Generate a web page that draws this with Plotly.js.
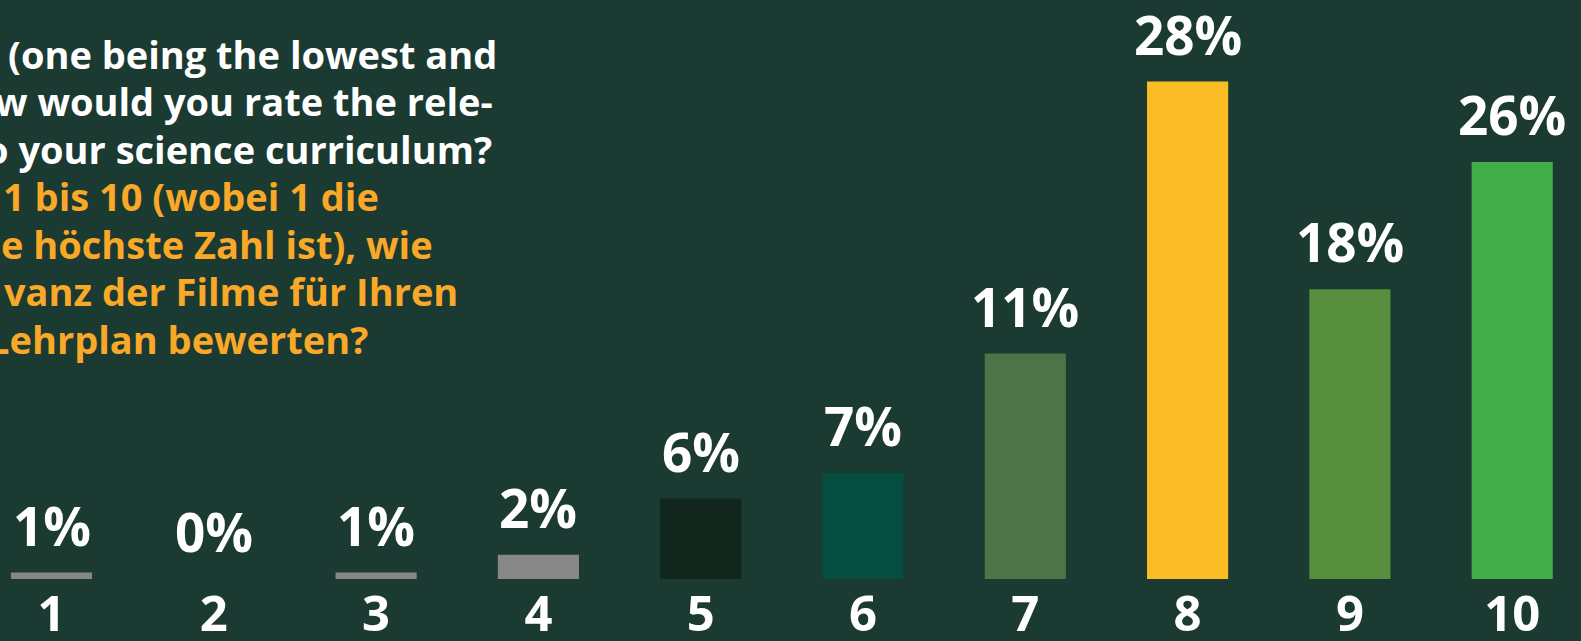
<!DOCTYPE html>
<html>
<head>
<meta charset="utf-8">
<script src="https://cdn.plot.ly/plotly-3.0.1.min.js"></script>
<style>
  html, body { margin: 0; padding: 0; background: #1a3a32; }
  #chart { width: 1581px; height: 641px; }
</style>
</head>
<body>
<div id="chart"></div>
<script>
// Rating categories (x axis)
const ratings = ['1', '2', '3', '4', '5', '6', '7', '8', '9', '10'];
// Bar lengths (percentage-point scale, infographic bars)
const barHeights = [0.4, 0, 0.4, 1.5, 5.0, 6.6, 14.0, 30.9, 18.0, 25.9];
// Printed share labels
const shareLabels = ['1%', '0%', '1%', '2%', '6%', '7%', '11%', '28%', '18%', '26%'];
// Bar colours
const barColors = ['#878787', '#878787', '#878787', '#878787', '#11261c',
                   '#054d3f', '#4d7347', '#fbbd26', '#588f3f', '#40ad4a'];

// Question text (left part is cut off in the original)
const questionEN = [
  '(one being the lowest and',
  'w would you rate the rele-',
  'o your science curriculum?'
];
const questionDE = [
  '1 bis 10 (wobei 1 die',
  'e höchste Zahl ist), wie',
  'vanz der Filme für Ihren',
  'Lehrplan bewerten?'
];
const lineEndsEN = [499, 495, 494];
const lineEndsDE = [381, 435, 460, 370];

const W = 1581, H = 641, BOTTOM = 62;
const plotH = H - BOTTOM;
const pxPerUnit = 16.1;
const FONT = 'Open Sans, Noto Sans, sans-serif';

const annotations = [];
ratings.forEach((r, i) => {
  annotations.push({
    x: i, y: barHeights[i], xref: 'x', yref: 'y',
    text: shareLabels[i], showarrow: false,
    xanchor: 'center', yanchor: 'bottom', yshift: 9,
    font: { family: FONT, size: 53, color: '#ffffff', weight: 700 }
  });
});

function addLines(lines, ends, color, firstBaseline) {
  lines.forEach((t, k) => {
    const baseline = firstBaseline + k * 47.5;
    const centerY = baseline - 15;
    annotations.push({
      x: ends[k] / W, y: (plotH - centerY) / plotH, xref: 'paper', yref: 'paper',
      text: t, showarrow: false, xanchor: 'right', yanchor: 'middle',
      font: { family: FONT, size: 38, color: color, weight: 700 }
    });
  });
}
addLines(questionEN, lineEndsEN, '#ffffff', 68.6);
addLines(questionDE, lineEndsDE, '#f9a828', 68.6 + 3 * 47.5);

const trace = {
  type: 'bar',
  x: ratings,
  y: barHeights,
  width: 0.5,
  marker: { color: barColors, line: { width: 0 } },
  hoverinfo: 'skip'
};

const firstCenterPx = 51.5, stepPx = 162.3;
const x0 = -firstCenterPx / stepPx;
const x1 = x0 + W / stepPx;

const layout = {
  width: W, height: H,
  margin: { l: 0, r: 0, t: 0, b: BOTTOM, pad: 0 },
  paper_bgcolor: '#1a3a32',
  plot_bgcolor: '#1a3a32',
  showlegend: false,
  bargap: 0.5,
  xaxis: {
    type: 'category', range: [x0, x1], fixedrange: true,
    showgrid: false, zeroline: false, showline: false, ticks: '',
    ticklabelstandoff: 2,
    tickfont: { family: FONT, size: 49, color: '#ffffff', weight: 700 }
  },
  yaxis: {
    range: [0, plotH / pxPerUnit], fixedrange: true,
    showgrid: false, zeroline: false, showline: false, showticklabels: false
  },
  annotations: annotations
};

Plotly.newPlot('chart', [trace], layout, { displayModeBar: false, staticPlot: true });
</script>
</body>
</html>
